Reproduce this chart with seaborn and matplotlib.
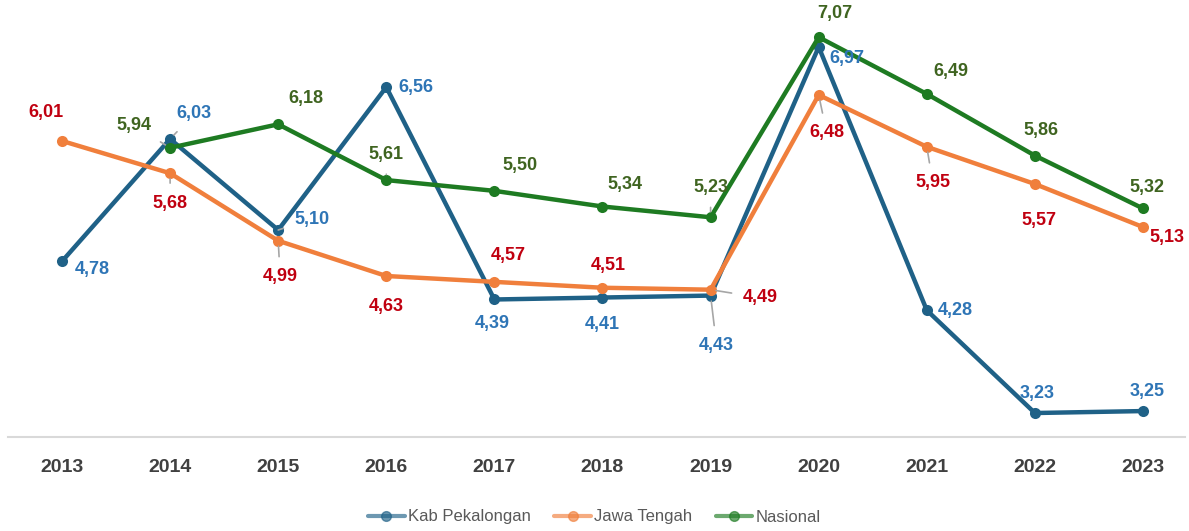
import numpy as np
import pandas as pd
import matplotlib
matplotlib.use("Agg")
import matplotlib.pyplot as plt
import seaborn as sns
from matplotlib.lines import Line2D

# ── Data ──────────────────────────────────────────────────────────────────
years = [2013, 2014, 2015, 2016, 2017, 2018, 2019, 2020, 2021, 2022, 2023]
kab_pekalongan = [4.78, 6.03, 5.10, 6.56, 4.39, 4.41, 4.43, 6.97, 4.28, 3.23, 3.25]
jawa_tengah = [6.01, 5.68, 4.99, 4.63, 4.57, 4.51, 4.49, 6.48, 5.95, 5.57, 5.13]
nasional = [np.nan, 5.94, 6.18, 5.61, 5.50, 5.34, 5.23, 7.07, 6.49, 5.86, 5.32]
series_names = ["Kab Pekalongan", "Jawa Tengah", "Nasional"]

# ── Styling ───────────────────────────────────────────────────────────────
line_colors = {"Kab Pekalongan": "#1F6187", "Jawa Tengah": "#F07F3C", "Nasional": "#1E7B22"}
text_colors = {"Kab Pekalongan": "#2E75B6", "Jawa Tengah": "#C00010", "Nasional": "#3F6420"}

# label offsets in pixels (dx, dy up), and whether a leader line is drawn
label_offsets = {
    "Kab Pekalongan": [(30, -8, 0), (24, 25, 1), (34, 11, 1), (30, 0, 0), (-2, -24, 0),
                       (0, -27, 0), (6, -50, 1), (28, -12, 0), (28, 0, 0), (2, 20, 0), (4, 20, 0)],
    "Jawa Tengah": [(-16, 28, 0), (0, -30, 1), (2, -36, 1), (0, -31, 0), (14, 26, 0),
                    (6, 22, 0), (50, -8, 1), (8, -38, 1), (6, -36, 1), (4, -37, 0), (24, -10, 0)],
    "Nasional": [None, (-36, 22, 1), (28, 26, 0), (0, 26, 1), (26, 25, 0),
                 (22, 22, 0), (0, 30, 1), (16, 24, 0), (24, 22, 0), (6, 25, 0), (4, 21, 0)],
}

df = pd.DataFrame({
    "year": years * 3,
    "value": kab_pekalongan + jawa_tengah + nasional,
    "series": np.repeat(series_names, len(years)),
})

sns.set_style("white")
plt.rcParams["font.family"] = ["Liberation Sans Narrow", "Liberation Sans", "DejaVu Sans"]

fig = plt.figure(figsize=(11.89, 5.31), dpi=100)
ax = fig.add_axes([8 / 1189, 94 / 531, 1177 / 1189, 437 / 531])

sns.lineplot(data=df, x="year", y="value", hue="series", hue_order=series_names,
             palette=line_colors, marker="o", markersize=8, markeredgewidth=0,
             linewidth=3.2, ax=ax, legend=False, estimator=None, sort=False)

px = 108.1
ax.set_xlim(2013 - 54 / px, 2013 + (1185 - 62) / px)
ax.set_ylim(2.985, 7.45)

for name, vals in zip(series_names, [kab_pekalongan, jawa_tengah, nasional]):
    for yr, v, off in zip(years, vals, label_offsets[name]):
        if off is None or np.isnan(v):
            continue
        dx, dy, leader = off
        props = None
        if leader:
            props = dict(arrowstyle="-", color="#A6A6A6", lw=1.2, shrinkA=6, shrinkB=4)
        ax.annotate(f"{v:.2f}".replace(".", ","), xy=(yr, v),
                    xytext=(dx * 0.72, dy * 0.72), textcoords="offset points",
                    ha="center", va="center", fontsize=13, fontweight="bold",
                    color=text_colors[name], arrowprops=props, zorder=5)

ax.set_xticks(years)
ax.set_xticklabels([str(y) for y in years], fontsize=14, fontweight="bold", color="#404040")
ax.set_yticks([])
ax.set_xlabel("")
ax.set_ylabel("")
ax.tick_params(axis="x", length=0, pad=16)
for side in ["left", "right", "top"]:
    ax.spines[side].set_visible(False)
ax.spines["bottom"].set_color("#D9D9D9")
ax.spines["bottom"].set_linewidth(1.5)

handles = [Line2D([], [], color=line_colors[n], lw=3, marker="o", markersize=7, alpha=0.65)
           for n in series_names]
fig.legend(handles=handles, labels=series_names, loc="center", bbox_to_anchor=(0.5, 14 / 531),
           ncol=3, frameon=False, fontsize=12, labelcolor="#595959",
           handlelength=2.2, columnspacing=1.4, handletextpad=0.2)

fig.savefig("out.png", dpi=100)
